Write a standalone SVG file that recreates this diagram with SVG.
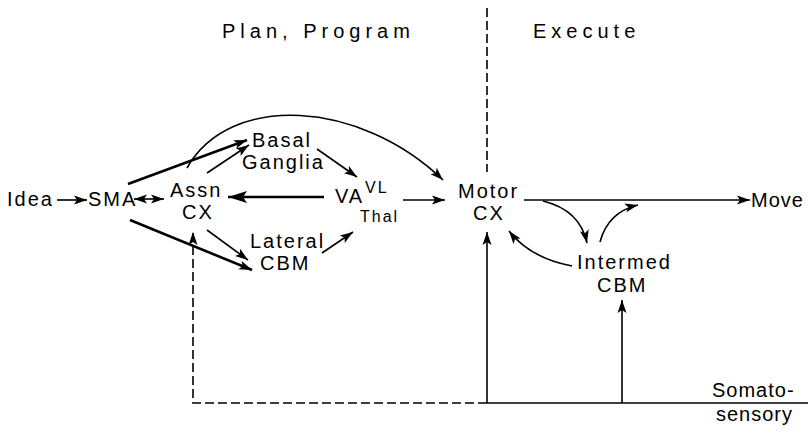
<svg xmlns="http://www.w3.org/2000/svg" width="808" height="434" viewBox="0 0 808 434">
<defs>
<style>
text{font-family:"Liberation Sans","DejaVu Sans",sans-serif;font-size:20px;fill:#000;letter-spacing:2px}
.title{letter-spacing:5px}
.small{font-size:16px}
.tight{letter-spacing:1px}
.c{fill:none;stroke:#000;stroke-width:1.6}
.thick{stroke-width:2.6}
.dash{stroke-dasharray:9,4}
</style>
<marker id="ah" markerUnits="userSpaceOnUse" markerWidth="14" markerHeight="10" refX="13" refY="5" orient="auto-start-reverse">
<path d="M0,0.5 L13,5 L0,9.5 L3,5 z" fill="#000"/>
</marker>
<marker id="ahb" markerUnits="userSpaceOnUse" markerWidth="20" markerHeight="12" refX="19" refY="6" orient="auto">
<path d="M0,0 L19,6 L0,12 L4,6 z" fill="#000"/>
</marker>
</defs>
<rect width="808" height="434" fill="#fff"/>
<g id="headers">
<text class="title" x="222" y="38">Plan, Program</text>
<text class="title" x="533" y="38">Execute</text>
</g>
<g id="idea"><text x="7" y="206">Idea</text></g>
<g id="sma"><text x="88" y="206">SMA</text></g>
<g id="assn-cx"><text x="170" y="197">Assn</text><text x="182" y="219">CX</text></g>
<g id="basal-ganglia"><text x="252" y="147">Basal</text><text x="242" y="169">Ganglia</text></g>
<g id="thal"><text x="335" y="203">VA</text><text class="small" x="365" y="193">VL</text><text class="small" x="360" y="222">Thal</text></g>
<g id="lateral-cbm"><text x="250" y="248">Lateral</text><text x="260" y="270">CBM</text></g>
<g id="motor-cx"><text x="458" y="198">Motor</text><text x="473" y="220">CX</text></g>
<g id="intermed-cbm"><text x="577" y="269">Intermed</text><text x="597" y="292">CBM</text></g>
<g id="move"><text class="tight" x="751" y="207">Move</text></g>
<g id="somatosensory"><text class="tight" x="712" y="397">Somato-</text><text class="tight" x="716" y="421">sensory</text></g>
<g id="connectors">
<path class="c dash" d="M487,8 L487,172"/>
<path class="c" d="M57,200 L87,200" marker-end="url(#ah)"/>
<path class="c" d="M134,199 L164,199" marker-start="url(#ah)" marker-end="url(#ah)"/>
<path class="c thick" d="M128,184 L247,140" marker-end="url(#ah)"/>
<path class="c" d="M207,173 L249,145" marker-end="url(#ah)"/>
<path class="c thick" d="M130,220 L252,270" marker-end="url(#ah)"/>
<path class="c" d="M207,230 L248,260" marker-end="url(#ah)"/>
<path class="c" d="M187,168 C230,92 360,100 443,180" marker-end="url(#ah)"/>
<path class="c" d="M317,149 L357,177" marker-end="url(#ah)"/>
<path class="c thick" d="M324,197 L228,197" marker-end="url(#ahb)"/>
<path class="c" d="M403,200 L445,200" marker-end="url(#ah)"/>
<path class="c" d="M322,253 L353,232" marker-end="url(#ah)"/>
<path class="c dash" d="M487,403 L193,403 L193,232" marker-end="url(#ah)"/>
<path class="c" d="M487,403 L808,403"/>
<path class="c" d="M487,403 L487,232" marker-end="url(#ah)"/>
<path class="c" d="M622,403 L622,300" marker-end="url(#ah)"/>
<path class="c" d="M524,200 L750,200" marker-end="url(#ah)"/>
<path class="c" d="M543,201 Q580,210 587,243" marker-end="url(#ah)"/>
<path class="c" d="M600,242 Q608,212 638,205" marker-end="url(#ah)"/>
<path class="c" d="M572,266 Q530,258 509,231" marker-end="url(#ah)"/>
</g>
</svg>
